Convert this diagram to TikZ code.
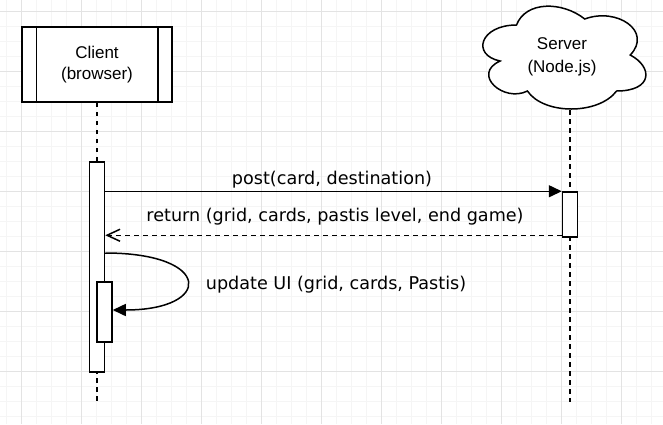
\documentclass[tikz,border=0pt]{standalone}
\usepackage{fontspec}
\newfontfamily\boxfont{Liberation Sans}
\newfontfamily\msgfont{DejaVu Sans}
\usetikzlibrary{arrows.meta}
\begin{document}
\begin{tikzpicture}[x=1pt, y=-1pt,
  minorline/.style={draw=black!4, line width=1pt},
  majorline/.style={draw=black!11, line width=1pt},
  actor/.style={draw, fill=white, line width=1.5pt, minimum width=150pt, minimum height=75pt, inner sep=0pt, align=center, font=\boxfont\fontsize{17}{21}\selectfont},
  cloudtext/.style={align=center, inner sep=0pt, font=\boxfont\fontsize{17}{23}\selectfont},
  bar/.style={draw, fill=white, line width=1.5pt, minimum width=15pt, inner sep=0pt},
  life/.style={line width=1.5pt, dash pattern=on 4.5pt off 4.5pt},
  msg/.style={line width=1.5pt, -{Triangle[length=13pt, width=12pt]}},
  reply/.style={line width=1.5pt, dash pattern=on 4.5pt off 4.5pt, -{Straight Barb[length=13pt, width=12pt]}},
  lbl/.style={anchor=base, inner sep=0pt, font=\msgfont\fontsize{17.6}{20}\selectfont}]
\useasboundingbox (0,0) rectangle (663,424);
\fill[white] (0,0) rectangle (663,424);
% grid
\foreach \gx in {6.5,21.5,...,663} \draw[minorline] (\gx,0) -- (\gx,424);
\foreach \gy in {11.7,26.7,...,424} \draw[minorline] (0,\gy) -- (663,\gy);
\foreach \gx in {21.5,81.5,...,663} \draw[majorline] (\gx,0) -- (\gx,424);
\foreach \gy in {11.7,71.7,...,424} \draw[majorline] (0,\gy) -- (663,\gy);
% lifelines
\node[actor] (client) at (97,64.5){Client\\(browser)};
\draw[line width=1.5pt] ([xshift=15pt]client.north west) -- ([xshift=15pt]client.south west);
\draw[line width=1.5pt] ([xshift=-15pt]client.north east) -- ([xshift=-15pt]client.south east);
\draw[fill=white, line width=1.5pt] (516.5,25) .. controls (480.1,25) and (471,55) .. (500.1,61)
  .. controls (471,74.2) and (503.8,103) .. (527.4,91)
  .. controls (543.8,115) and (598.4,115) .. (616.6,91)
  .. controls (653,91) and (653,67) .. (630.25,55)
  .. controls (653,31) and (616.6,7) .. (584.75,19)
  .. controls (562,1) and (525.6,1) .. (516.5,25) -- cycle;
\node[cloudtext] (server) at (562,57){Server\\(Node.js)};
\coordinate (scloud) at (570,110);
\coordinate (cend) at (97,402);
\coordinate (send) at (570,402);
\draw[life] (client) -- (97,162) coordinate (ctop);
\draw[life] (scloud) -- (send);
\draw[life] (ctop) -- (cend);
\node[bar, minimum height=210pt] (cbar) at (97,267){};
\node[bar, minimum height=45pt] (sbar) at (570,214.5){};
\node[bar, minimum height=60pt] (ubar) at (104.5,312){};
% messages
\draw[msg] (cbar.east |- sbar.north west) -- (sbar.north west);
\node[lbl] (post) at (332,184){post(card, destination)};
\draw[reply] ([yshift=2.5pt]sbar.south west) -- ([yshift=2.5pt]cbar.east |- sbar.south west);
\node[lbl] (ret) at (335,221){return (grid, cards, pastis level, end game)};
\draw[msg] (cbar.east |- 0,253) .. controls (213,253) and (213,310) .. (ubar.east |- 0,310);
\node[lbl] (upd) at (336,289){update UI (grid, cards, Pastis)};
\end{tikzpicture}
\end{document}
